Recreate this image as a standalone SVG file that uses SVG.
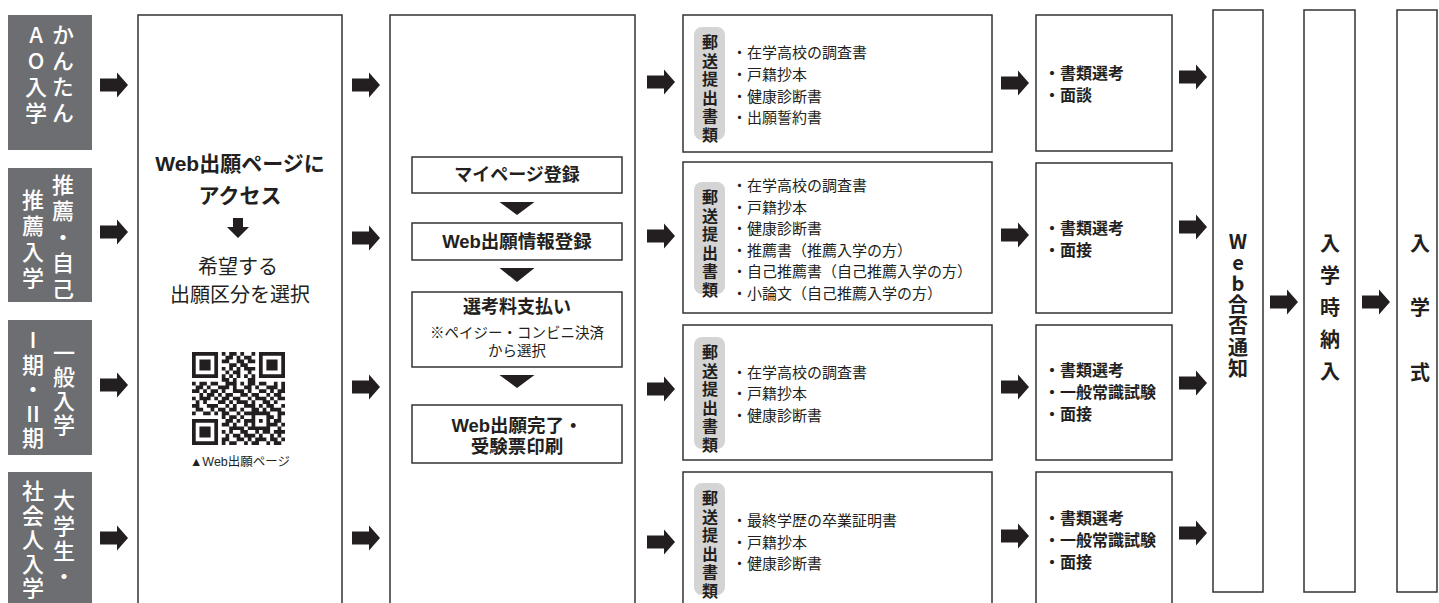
<svg xmlns="http://www.w3.org/2000/svg" width="1439" height="603" viewBox="0 0 1439 603">
<defs>
<style>
.box{fill:#fff;stroke:#333;stroke-width:1.5}
.cat{fill:#6d6e71}
.pill{fill:#d4d4d4}
.tx{font-family:"Liberation Sans","Noto Sans CJK JP",sans-serif;fill:#231f20;dominant-baseline:central}
.v{font-family:"Noto Sans CJK JP",sans-serif;fill:#231f20;writing-mode:vertical-rl;text-orientation:upright;text-anchor:start}
.w{fill:#fff;font-size:22px;font-weight:500}
.b{font-weight:700}
.c{text-anchor:middle}
.it{font-size:15px}
.sc{font-size:16px;font-weight:700}
.pt{font-size:16px;font-weight:700;letter-spacing:2.6px}
.col{font-size:20px;font-weight:700}
</style>
<path id="ar" d="M0 -6.5H17V-12.5L28 0L17 12.5V6.5H0Z" fill="#231f20"/>
</defs>
<rect x="0" y="0" width="1439" height="603" fill="#fff"/>

<g id="cat-ao">
<rect class="cat" x="8" y="15" width="84" height="135"/>
<text class="v w" x="63" y="24" letter-spacing="4">かんたん</text>
<text class="v w" x="36" y="24" letter-spacing="4">AO入学</text>
</g>
<g id="cat-suisen">
<rect class="cat" x="8" y="168" width="84" height="134"/>
<text class="v w" x="63" y="174" letter-spacing="4">推薦・自己</text>
<text class="v w" x="33" y="189" letter-spacing="4">推薦入学</text>
</g>
<g id="cat-ippan">
<rect class="cat" x="8" y="320" width="84" height="135"/>
<text class="v w" x="64" y="342" letter-spacing="2">一般入学</text>
<text class="v w" x="33" y="329" letter-spacing="2.5">Ⅰ期・Ⅱ期</text>
</g>
<g id="cat-shakai">
<rect class="cat" x="8" y="472" width="84" height="140"/>
<text class="v w" x="64" y="489" letter-spacing="3.3">大学生・</text>
<text class="v w" x="33" y="480" letter-spacing="2.2">社会人入学</text>
</g>

<g id="web-access">
<rect class="box" x="138" y="15" width="204" height="600"/>
<text class="tx b c" x="240" y="163.5" font-size="21">Web出願ページに</text>
<text class="tx b c" x="240" y="195" font-size="21">アクセス</text>
<text class="tx c" x="238" y="267" font-size="20">希望する</text>
<text class="tx c" x="240" y="295" font-size="20">出願区分を選択</text>
<path transform="translate(192,352) scale(3.72)" fill="#231f20" d="M0 0h7v1h-7zM8 0h1v1h-1zM10 0h2v1h-2zM13 0h1v1h-1zM16 0h1v1h-1zM18 0h7v1h-7zM0 1h1v1h-1zM6 1h1v1h-1zM9 1h2v1h-2zM12 1h1v1h-1zM14 1h2v1h-2zM18 1h1v1h-1zM24 1h1v1h-1zM0 2h1v1h-1zM2 2h3v1h-3zM6 2h1v1h-1zM8 2h2v1h-2zM12 2h2v1h-2zM15 2h2v1h-2zM18 2h1v1h-1zM20 2h3v1h-3zM24 2h1v1h-1zM0 3h1v1h-1zM2 3h3v1h-3zM6 3h1v1h-1zM10 3h2v1h-2zM13 3h2v1h-2zM18 3h1v1h-1zM20 3h3v1h-3zM24 3h1v1h-1zM0 4h1v1h-1zM2 4h3v1h-3zM6 4h1v1h-1zM8 4h1v1h-1zM10 4h1v1h-1zM12 4h1v1h-1zM14 4h3v1h-3zM18 4h1v1h-1zM20 4h3v1h-3zM24 4h1v1h-1zM0 5h1v1h-1zM6 5h1v1h-1zM9 5h1v1h-1zM11 5h2v1h-2zM15 5h1v1h-1zM18 5h1v1h-1zM24 5h1v1h-1zM0 6h7v1h-7zM8 6h1v1h-1zM10 6h1v1h-1zM12 6h1v1h-1zM14 6h1v1h-1zM16 6h1v1h-1zM18 6h7v1h-7zM8 7h2v1h-2zM11 7h1v1h-1zM15 7h2v1h-2zM0 8h1v1h-1zM2 8h2v1h-2zM5 8h2v1h-2zM9 8h3v1h-3zM13 8h1v1h-1zM15 8h2v1h-2zM18 8h2v1h-2zM22 8h1v1h-1zM24 8h1v1h-1zM1 9h2v1h-2zM4 9h1v1h-1zM7 9h3v1h-3zM11 9h1v1h-1zM14 9h2v1h-2zM17 9h1v1h-1zM20 9h3v1h-3zM24 9h1v1h-1zM0 10h2v1h-2zM3 10h1v1h-1zM5 10h2v1h-2zM8 10h1v1h-1zM11 10h3v1h-3zM15 10h1v1h-1zM18 10h2v1h-2zM21 10h1v1h-1zM23 10h2v1h-2zM2 11h1v1h-1zM4 11h2v1h-2zM7 11h1v1h-1zM9 11h2v1h-2zM13 11h2v1h-2zM16 11h2v1h-2zM20 11h1v1h-1zM22 11h2v1h-2zM0 12h1v1h-1zM2 12h3v1h-3zM6 12h1v1h-1zM8 12h2v1h-2zM11 12h2v1h-2zM15 12h1v1h-1zM17 12h3v1h-3zM21 12h1v1h-1zM23 12h2v1h-2zM1 13h1v1h-1zM3 13h1v1h-1zM7 13h2v1h-2zM10 13h1v1h-1zM12 13h3v1h-3zM16 13h1v1h-1zM19 13h2v1h-2zM22 13h1v1h-1zM0 14h2v1h-2zM4 14h3v1h-3zM9 14h1v1h-1zM11 14h1v1h-1zM14 14h3v1h-3zM18 14h1v1h-1zM20 14h2v1h-2zM24 14h1v1h-1zM1 15h2v1h-2zM5 15h1v1h-1zM7 15h2v1h-2zM10 15h2v1h-2zM13 15h1v1h-1zM16 15h2v1h-2zM19 15h1v1h-1zM21 15h3v1h-3zM0 16h1v1h-1zM3 16h2v1h-2zM6 16h1v1h-1zM8 16h2v1h-2zM12 16h1v1h-1zM14 16h7v1h-7zM23 16h2v1h-2zM8 17h1v1h-1zM10 17h2v1h-2zM13 17h1v1h-1zM16 17h1v1h-1zM20 17h2v1h-2zM23 17h1v1h-1zM0 18h7v1h-7zM9 18h2v1h-2zM12 18h1v1h-1zM14 18h3v1h-3zM18 18h1v1h-1zM20 18h1v1h-1zM22 18h2v1h-2zM0 19h1v1h-1zM6 19h1v1h-1zM8 19h2v1h-2zM11 19h1v1h-1zM14 19h1v1h-1zM16 19h1v1h-1zM20 19h3v1h-3zM24 19h1v1h-1zM0 20h1v1h-1zM2 20h3v1h-3zM6 20h1v1h-1zM10 20h4v1h-4zM15 20h6v1h-6zM23 20h1v1h-1zM0 21h1v1h-1zM2 21h3v1h-3zM6 21h1v1h-1zM8 21h1v1h-1zM10 21h1v1h-1zM13 21h2v1h-2zM17 21h1v1h-1zM19 21h2v1h-2zM22 21h3v1h-3zM0 22h1v1h-1zM2 22h3v1h-3zM6 22h1v1h-1zM9 22h1v1h-1zM11 22h2v1h-2zM14 22h3v1h-3zM18 22h1v1h-1zM21 22h1v1h-1zM23 22h1v1h-1zM0 23h1v1h-1zM6 23h1v1h-1zM8 23h2v1h-2zM12 23h2v1h-2zM15 23h1v1h-1zM17 23h3v1h-3zM21 23h2v1h-2zM24 23h1v1h-1zM0 24h7v1h-7zM8 24h1v1h-1zM10 24h2v1h-2zM14 24h1v1h-1zM16 24h2v1h-2zM20 24h1v1h-1zM22 24h2v1h-2z"/>
<text class="tx c" x="240" y="462" font-size="12.5">▲Web出願ページ</text>
</g>

<g id="web-apply">
<rect class="box" x="390" y="15" width="245" height="600"/>
</g>
<g id="step-mypage">
<rect class="box" x="412" y="157" width="210" height="36"/>
<text class="tx b c" x="517" y="175" font-size="18">マイページ登録</text>
</g>
<g id="step-info">
<rect class="box" x="412" y="223" width="210" height="37"/>
<text class="tx b c" x="517" y="241.5" font-size="18.5">Web出願情報登録</text>
</g>
<g id="step-pay">
<rect class="box" x="412" y="292" width="210" height="75"/>
<text class="tx b c" x="517" y="307" font-size="18">選考料支払い</text>
<text class="tx c" x="517" y="333" font-size="14.5">※ペイジー・コンビニ決済</text>
<text class="tx c" x="517" y="351" font-size="14.5">から選択</text>
</g>
<g id="step-done">
<rect class="box" x="412" y="405" width="210" height="58"/>
<text class="tx b c" x="517" y="425" font-size="18.5">Web出願完了・</text>
<text class="tx b c" x="517" y="446" font-size="18.5">受験票印刷</text>
</g>

<g id="docs-ao">
<rect class="box" x="683" y="15" width="309" height="137"/>
<rect class="pill" x="694" y="27" width="31" height="113" rx="8"/>
<text class="v pt" x="710" y="34">郵送提出書類</text>
<text class="tx it"><tspan x="732" y="52">・在学高校の調査書</tspan><tspan x="732" y="73.5">・戸籍抄本</tspan><tspan x="732" y="95.5">・健康診断書</tspan><tspan x="732" y="117">・出願誓約書</tspan></text>
</g>
<g id="docs-suisen">
<rect class="box" x="683" y="162" width="309" height="151"/>
<rect class="pill" x="694" y="182" width="31" height="112" rx="8"/>
<text class="v pt" x="710" y="189">郵送提出書類</text>
<text class="tx it"><tspan x="732" y="185">・在学高校の調査書</tspan><tspan x="732" y="206.6">・戸籍抄本</tspan><tspan x="732" y="228.2">・健康診断書</tspan><tspan x="732" y="249.8">・推薦書（推薦入学の方）</tspan><tspan x="732" y="271.4">・自己推薦書（自己推薦入学の方）</tspan><tspan x="732" y="293">・小論文（自己推薦入学の方）</tspan></text>
</g>
<g id="docs-ippan">
<rect class="box" x="683" y="325" width="309" height="135"/>
<rect class="pill" x="694" y="337" width="31" height="112" rx="8"/>
<text class="v pt" x="710" y="344">郵送提出書類</text>
<text class="tx it"><tspan x="732" y="371.5">・在学高校の調査書</tspan><tspan x="732" y="393">・戸籍抄本</tspan><tspan x="732" y="414.5">・健康診断書</tspan></text>
</g>
<g id="docs-shakai">
<rect class="box" x="683" y="472" width="309" height="140"/>
<rect class="pill" x="694" y="483" width="31" height="112" rx="8"/>
<text class="v pt" x="710" y="490">郵送提出書類</text>
<text class="tx it"><tspan x="732" y="520">・最終学歴の卒業証明書</tspan><tspan x="732" y="541.5">・戸籍抄本</tspan><tspan x="732" y="563">・健康診断書</tspan></text>
</g>

<g id="select-ao">
<rect class="box" x="1036" y="15" width="136" height="136"/>
<text class="tx sc"><tspan x="1044" y="73">・書類選考</tspan><tspan x="1044" y="95">・面談</tspan></text>
</g>
<g id="select-suisen">
<rect class="box" x="1036" y="163" width="136" height="150"/>
<text class="tx sc"><tspan x="1044" y="228">・書類選考</tspan><tspan x="1044" y="250">・面接</tspan></text>
</g>
<g id="select-ippan">
<rect class="box" x="1036" y="325" width="136" height="135"/>
<text class="tx sc"><tspan x="1044" y="370">・書類選考</tspan><tspan x="1044" y="392">・一般常識試験</tspan><tspan x="1044" y="414">・面接</tspan></text>
</g>
<g id="select-shakai">
<rect class="box" x="1036" y="472" width="136" height="140"/>
<text class="tx sc"><tspan x="1044" y="518">・書類選考</tspan><tspan x="1044" y="540">・一般常識試験</tspan><tspan x="1044" y="562">・面接</tspan></text>
</g>

<g id="result">
<rect class="box" x="1213" y="10" width="50" height="582"/>
<text class="v col" x="1238" y="231" letter-spacing="1.2">Web合否通知</text>
</g>
<g id="payment">
<rect class="box" x="1304" y="10" width="51" height="582"/>
<text class="v col" x="1330" y="233" letter-spacing="12">入学時納入</text>
</g>
<g id="ceremony">
<rect class="box" x="1397" y="10" width="40" height="582"/>
<text class="v col" x="1420" y="233" letter-spacing="44.5">入学式</text>
</g>

<g id="connectors">
<use href="#ar" x="100" y="85"/>
<use href="#ar" x="100" y="232"/>
<use href="#ar" x="100" y="385"/>
<use href="#ar" x="100" y="538"/>
<use href="#ar" x="352" y="85"/>
<use href="#ar" x="352" y="238"/>
<use href="#ar" x="352" y="387"/>
<use href="#ar" x="352" y="538"/>
<use href="#ar" x="647" y="82"/>
<use href="#ar" x="647" y="236"/>
<use href="#ar" x="647" y="389"/>
<use href="#ar" x="647" y="542"/>
<use href="#ar" x="1001" y="83"/>
<use href="#ar" x="1001" y="235"/>
<use href="#ar" x="1001" y="387"/>
<use href="#ar" x="1001" y="536"/>
<use href="#ar" x="1179" y="77"/>
<use href="#ar" x="1179" y="227"/>
<use href="#ar" x="1179" y="383"/>
<use href="#ar" x="1179" y="533"/>
<use href="#ar" x="1270" y="302"/>
<use href="#ar" x="1362" y="302"/>
<path d="M233 218h10v9h6l-11 11l-11-11h6z" fill="#231f20"/>
<polygon points="499.5,202 534.5,202 517,215" fill="#231f20"/>
<polygon points="499.5,268 534.5,268 517,282" fill="#231f20"/>
<polygon points="499.5,375 534.5,375 517,388" fill="#231f20"/>
</g>
</svg>
